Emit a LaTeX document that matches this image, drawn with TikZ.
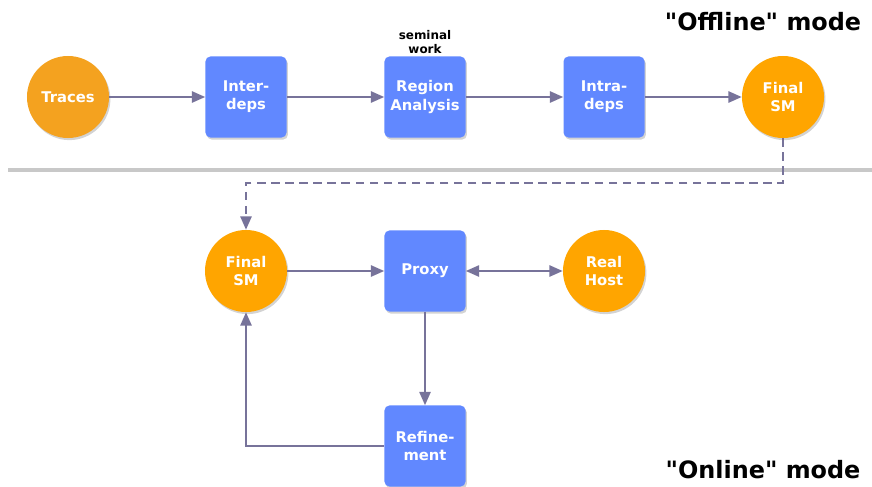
\documentclass[tikz,border=0pt]{standalone}
\usepackage{fontspec}
\setmainfont{DejaVu Sans}
\usepackage{tikz}
\usetikzlibrary{arrows.meta}
\usetikzlibrary{shadows}
\usepackage{xcolor}

\definecolor{boxblue}{HTML}{6188FF}
\definecolor{smorange}{HTML}{FFA500}
\definecolor{trorange}{HTML}{F4A21F}
\definecolor{linkgray}{HTML}{77739A}
\definecolor{sepgray}{HTML}{C8C8C8}

\begin{document}
\begin{tikzpicture}[x=0.025cm, y=-0.025cm,
		every node/.style={font=\bfseries\fontsize{10.5}{13}\selectfont, align=center},
		stage/.style={rectangle, rounded corners=3.5pt, fill=boxblue, text=white,
			minimum width=2.025cm, minimum height=2.025cm, inner sep=0pt,
			drop shadow={shadow xshift=1pt, shadow yshift=-1.5pt, opacity=0.35}},
		state/.style={circle, fill=smorange, text=white, minimum size=2.05cm, inner sep=0pt,
			drop shadow={shadow xshift=1pt, shadow yshift=-1.5pt, opacity=0.35}},
		tip/.style={Triangle[length=9.5pt, width=8pt]},
		link/.style={draw=linkgray, line width=1.4pt, -{Triangle[length=9.5pt, width=8pt]}},
		modelabel/.style={font=\bfseries\fontsize{17}{20}\selectfont}]
	\useasboundingbox (0,0) rectangle (872,486);

	% Offline part
	\node[state, fill=trorange] (traces) at (68,97) {Traces};
	\node[stage] (inter) at (246,97) {Inter-\\deps};
	\node[stage] (region) at (425,97) {Region\\Analysis};
	\node[font=\bfseries\fontsize{8.5}{10}\selectfont, anchor=south, inner sep=1.5pt] (seminal) at (region.north) {seminal\\work};
	\node[stage] (intra) at (604,97) {Intra-\\deps};
	\node[state] (finaltop) at (783,97) {Final\\SM};
	\node[modelabel] (offline) at (763,22) {\textquotedbl Offline\textquotedbl{} mode};

	\draw[link] (traces) -- (inter);
	\draw[link] (inter) -- (region);
	\draw[link] (region) -- (intra);
	\draw[link] (intra) -- (finaltop);

	% separator
	\draw[sepgray, line width=2.5pt] (8,170) -- (872,170);

	% Online part
	\node[state] (finalbot) at (246,271) {Final\\SM};
	\node[stage] (proxy) at (425,271) {Proxy};
	\node[state] (host) at (604,271) {Real\\Host};
	\node[stage] (refine) at (425,446) {Refine-\\ment};
	\node[modelabel] (online) at (763,470) {\textquotedbl Online\textquotedbl{} mode};

	\draw[link, dash pattern=on 6pt off 4pt] (finaltop.south) -- ++(0,45) -| (finalbot.north);
	\draw[link] (finalbot) -- (proxy);
	\draw[link, {Triangle[length=9.5pt, width=8pt]}-{Triangle[length=9.5pt, width=8pt]}] (proxy) -- (host);
	\draw[link] (proxy) -- (refine);
	\draw[link] (refine.west) -| (finalbot.south);
\end{tikzpicture}
\end{document}
